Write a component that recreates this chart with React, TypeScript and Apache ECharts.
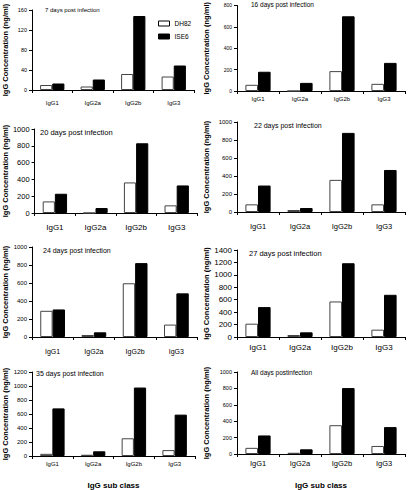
import React, { useEffect, useRef } from "react";
import * as echarts from "echarts";

const categories = ["IgG1", "IgG2a", "IgG2b", "IgG3"];
const panelTitles = [
  "7 days post infection",
  "16 days post infection",
  "20 days post infection",
  "22 days post infection",
  "24 days post infection",
  "27 days post infection",
  "35 days post infection",
  "All days postinfection",
];
const dh82Day7 = [10, 7, 32, 27];
const ise6Day7 = [13, 21, 148, 49];
const dh82Day16 = [58, 0, 186, 67];
const ise6Day16 = [180, 76, 699, 263];
const dh82Day20 = [138, 0, 364, 91];
const ise6Day20 = [229, 59, 830, 328];
const dh82Day22 = [85, 22, 357, 85];
const ise6Day22 = [294, 44, 879, 467];
const dh82Day24 = [291, 22, 597, 138];
const ise6Day24 = [306, 52, 821, 485];
const dh82Day27 = [214, 32, 572, 118];
const ise6Day27 = [481, 75, 1187, 679];
const dh82Day35 = [31, 18, 253, 84];
const ise6Day35 = [680, 67, 978, 591];
const dh82All = [75, 15, 351, 98];
const ise6All = [226, 57, 804, 328];
const yMax = [160, 800, 1000, 1000, 1000, 1400, 1200, 1000];
const yStep = [40, 200, 200, 200, 200, 200, 200, 200];

const dh82Sets = [dh82Day7, dh82Day16, dh82Day20, dh82Day22, dh82Day24, dh82Day27, dh82Day35, dh82All];
const ise6Sets = [ise6Day7, ise6Day16, ise6Day20, ise6Day22, ise6Day24, ise6Day27, ise6Day35, ise6All];

// layout: grid left, top, width, height, x label font, x label margin, y label font, title x, title y, title font
const layout = [
  { l: 29, t: 10, w: 165, h: 80, xf: 6, xm: 10, yf: 5.5, tx: 45, ty: 11, tf: 6, ng: 23 },
  { l: 237, t: 3, w: 168, h: 88, xf: 6, xm: 5, yf: 5, tx: 251, ty: 5, tf: 6.5, ng: 27 },
  { l: 29, t: 129, w: 168, h: 84, xf: 8, xm: 10, yf: 7.5, tx: 40, ty: 133, tf: 7.5, ng: 23 },
  { l: 237, t: 122, w: 168, h: 90, xf: 7.5, xm: 10, yf: 6, tx: 254, ty: 126, tf: 7, ng: 27 },
  { l: 29, t: 247, w: 168, h: 90, xf: 7, xm: 11, yf: 6, tx: 43, ty: 251, tf: 7, ng: 23 },
  { l: 237, t: 250, w: 168, h: 87, xf: 8, xm: 6, yf: 8, tx: 249, ty: 254, tf: 7.5, ng: 27 },
  { l: 29, t: 372, w: 166, h: 90, xf: 6, xm: 5, yf: 6, tx: 36, ty: 374, tf: 7, ng: 23 },
  { l: 237, t: 372, w: 168, h: 88, xf: 7.5, xm: 5, yf: 5.5, tx: 251, ty: 373, tf: 6.5, ng: 27 },
];

const FONT = "Liberation Sans, Arial, sans-serif";

export default function App() {
  const ref = useRef<HTMLDivElement>(null);
  useEffect(() => {
    if (!ref.current) return;
    const chart = echarts.init(ref.current, undefined, { renderer: "svg" });
    const grid: any[] = [];
    const xAxis: any[] = [];
    const yAxis: any[] = [];
    const series: any[] = [];
    const graphic: any[] = [];
    layout.forEach((p, i) => {
      grid.push({ left: p.l, top: p.t, width: p.w, height: p.h, containLabel: false });
      const isBottom = i >= 6;
      xAxis.push({
        type: "category",
        gridIndex: i,
        data: categories,
        name: isBottom ? "IgG sub class" : "",
        nameLocation: "middle",
        nameGap: 487 - (p.t + p.h),
        nameTextStyle: { fontFamily: FONT, fontSize: 8, fontWeight: "bold", color: "#000" },
        axisLine: { lineStyle: { color: "#000", width: 1 } },
        axisTick: { show: true, length: 3, lineStyle: { color: "#000" } },
        axisLabel: { fontFamily: FONT, fontSize: p.xf, color: "#000", margin: p.xm },
      });
      yAxis.push({
        type: "value",
        gridIndex: i,
        min: 0,
        max: yMax[i],
        interval: yStep[i],
        name: "IgG Concentration (ng/ml)",
        nameLocation: "middle",
        nameRotate: 90,
        nameGap: p.ng,
        nameTextStyle: { fontFamily: FONT, fontSize: 7.5, fontWeight: "bold", color: "#000" },
        splitLine: { show: false },
        axisLine: { show: true, lineStyle: { color: "#000", width: 1 } },
        axisTick: { show: true, length: 3, lineStyle: { color: "#000" } },
        axisLabel: {
          fontFamily: FONT,
          fontSize: p.yf,
          color: "#000",
          margin: 5,
          formatter: (v: number) => String(v),
        },
      });
      series.push({
        type: "bar",
        name: "DH82",
        xAxisIndex: i,
        yAxisIndex: i,
        data: dh82Sets[i],
        barGap: "0%",
        barCategoryGap: "40%",
        itemStyle: { color: "#fff", borderColor: "#444", borderWidth: 1 },
      });
      series.push({
        type: "bar",
        name: "ISE6",
        xAxisIndex: i,
        yAxisIndex: i,
        data: ise6Sets[i],
        barGap: "0%",
        barCategoryGap: "40%",
        itemStyle: { color: "#000", borderColor: "#000", borderWidth: 1 },
      });
      graphic.push({
        type: "text",
        left: p.tx,
        top: p.ty - p.tf / 2 - 1,
        style: { text: panelTitles[i], fontFamily: FONT, fontSize: p.tf, fill: "#000" },
      });
    });
    chart.setOption({
      animation: false,
      backgroundColor: "#fff",
      grid,
      xAxis,
      yAxis,
      series,
      graphic,
      legend: {
        orient: "vertical",
        left: 153,
        top: 15,
        itemWidth: 11,
        itemHeight: 5,
        itemGap: 6,
        icon: "rect",
        data: [
          { name: "DH82", itemStyle: { color: "#fff", borderColor: "#000", borderWidth: 1 } },
          { name: "ISE6", itemStyle: { color: "#000", borderColor: "#000", borderWidth: 1 } },
        ],
        textStyle: { fontFamily: FONT, fontSize: 6.5, color: "#000", padding: [0, 0, 0, 0] },
      },
    });
    return () => chart.dispose();
  }, []);
  return (
    <div
      ref={ref}
      style={{ position: "fixed", left: 0, top: 0, width: 408, height: 490, background: "#fff" }}
    />
  );
}
